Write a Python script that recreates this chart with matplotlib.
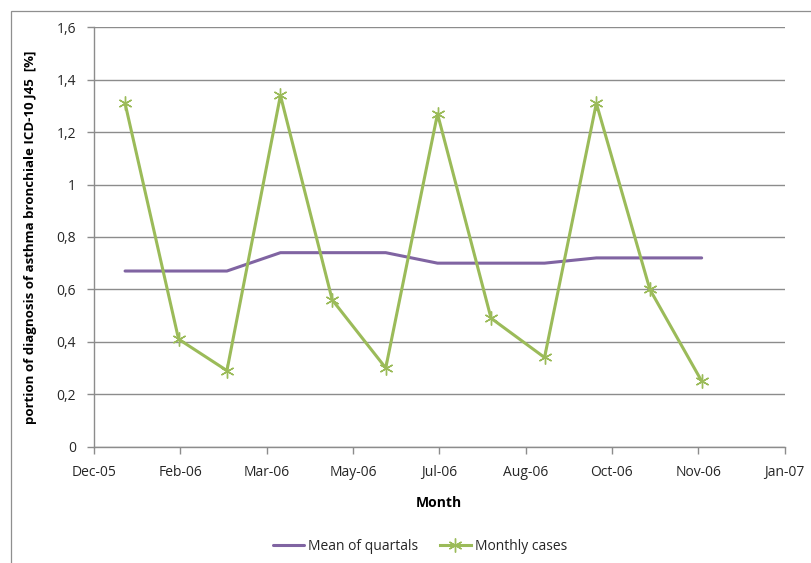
import datetime as dt

import matplotlib
matplotlib.use("Agg")
import matplotlib.dates as mdates
import matplotlib.pyplot as plt
from matplotlib.patches import Rectangle

# data
months = ["2006-01-01", "2006-02-01", "2006-03-01", "2006-04-01",
          "2006-05-01", "2006-06-01", "2006-07-01", "2006-08-01",
          "2006-09-01", "2006-10-01", "2006-11-01", "2006-12-01"]
monthly_cases = [1.31, 0.41, 0.29, 1.34, 0.56, 0.30,
                 1.27, 0.49, 0.34, 1.31, 0.60, 0.25]
mean_quartals = [0.67, 0.67, 0.67, 0.74, 0.74, 0.74,
                 0.70, 0.70, 0.70, 0.72, 0.72, 0.72]
y_ticks = [0, 0.2, 0.4, 0.6, 0.8, 1.0, 1.2, 1.4, 1.6]
y_tick_labels = ["0", "0,2", "0,4", "0,6", "0,8", "1", "1,2", "1,4", "1,6"]

# date axis as Excel draws it: start mid-December, major unit 50 days
axis_start = dt.date(2005, 12, 14)
major_days = 50
n_ticks = 9

plt.rcParams["font.family"] = ["Open Sans", "DejaVu Sans"]

W, H = 811, 563
fig = plt.figure(figsize=(W / 100, H / 100), dpi=100)

# chart area border
fig.patches.append(Rectangle((11 / W, -0.1), 1.2, 1 - 11 / H + 0.1,
                             transform=fig.transFigure, fill=False,
                             edgecolor="#8f8f8f", linewidth=0.9))

left, right, top, bottom = 94, 784.5, 27.3, 446.6
ax = fig.add_axes([left / W, 1 - bottom / H, (right - left) / W, (bottom - top) / H])

dates = [dt.datetime.strptime(m, "%Y-%m-%d") for m in months]
ticks = [axis_start + dt.timedelta(days=major_days * i) for i in range(n_ticks)]

ax.plot(dates, mean_quartals, color="#8064A2", linewidth=2.2,
        solid_capstyle="round", label="Mean of quartals", zorder=3)
ax.plot(dates, monthly_cases, color="#9BBB59", linewidth=2.2,
        marker=(6, 2, 0), markersize=10, markeredgewidth=1.0,
        markeredgecolor="#9BBB59", label="Monthly cases", zorder=4)

ax.set_xlim(ticks[0], ticks[-1])
ax.set_ylim(0, 1.6)
ax.set_xticks(ticks)
ax.xaxis.set_major_formatter(mdates.DateFormatter("%b-%y"))
ax.set_yticks(y_ticks)
ax.set_yticklabels(y_tick_labels)

ax.grid(axis="y", color="#8c8c8c", linewidth=1.0)
ax.set_axisbelow(True)
for side in ("top", "right"):
    ax.spines[side].set_visible(False)
for side in ("left", "bottom"):
    ax.spines[side].set_color("#8c8c8c")
    ax.spines[side].set_linewidth(1.0)
ax.tick_params(axis="both", direction="out", length=5, width=1.0,
               color="#8c8c8c", labelsize=10, labelcolor="#262626")
ax.tick_params(axis="x", pad=8)
ax.tick_params(axis="y", pad=8)

ax.set_xlabel("Month", fontsize=10, fontweight="bold", labelpad=12)
ax.set_ylabel("portion of diagnosis of asthma bronchiale ICD-10 J45  [%]",
              fontsize=9.5, fontweight="bold", labelpad=14)

fig.legend(loc="center", bbox_to_anchor=(420 / W, 1 - 546 / H), ncol=2,
           frameon=False, fontsize=10, handlelength=2.2, columnspacing=1.6,
           handletextpad=0.3, labelcolor="#262626")

fig.savefig("out.png", dpi=100)
